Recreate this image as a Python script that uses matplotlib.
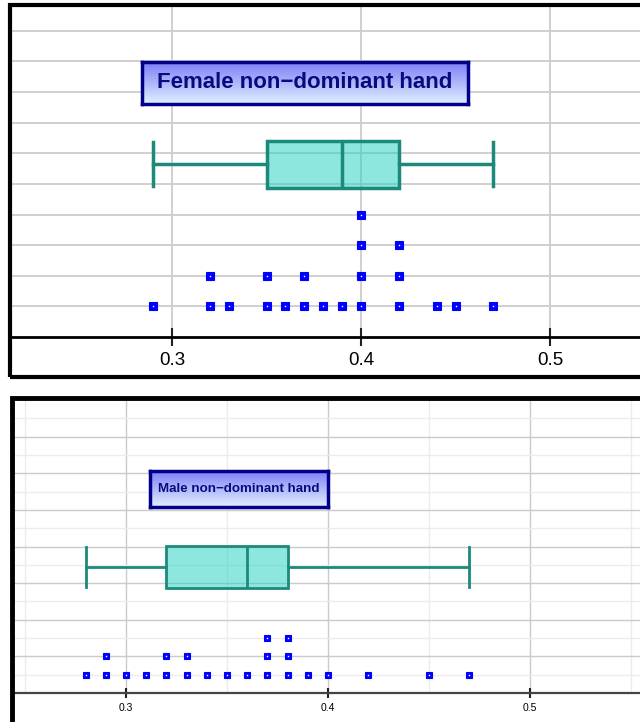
import numpy as np
import matplotlib
matplotlib.use("Agg")
import matplotlib.pyplot as plt
from matplotlib.patches import Rectangle
from matplotlib.colors import LinearSegmentedColormap

plt.rcParams['font.family'] = ['Liberation Sans', 'DejaVu Sans']

# values
female_vals = [0.29, 0.32, 0.32, 0.33, 0.35, 0.35, 0.36, 0.37, 0.37, 0.38, 0.39,
               0.40, 0.40, 0.40, 0.40, 0.42, 0.42, 0.42, 0.44, 0.45, 0.47]
male_vals = [0.28, 0.29, 0.29, 0.30, 0.31, 0.32, 0.32, 0.33, 0.33, 0.34, 0.35, 0.36,
             0.37, 0.37, 0.37, 0.38, 0.38, 0.38, 0.39, 0.40, 0.42, 0.45, 0.47]
titles = ["Female non\u2212dominant hand", "Male non\u2212dominant hand"]
tick_vals = [0.3, 0.4, 0.5]
tick_labels = ["0.3", "0.4", "0.5"]

W, H = 640, 722
BOX_EDGE = '#1b8a7a'
BOX_FACE = (0.12, 0.82, 0.75, 0.5)
title_cmap = LinearSegmentedColormap.from_list('tb', ['#e0f0ff', '#7e7ef6'])


def fx(px):
    return px / W


def fy(py):
    return 1 - py / H


def stack_positions(vals):
    seen = {}
    ys = []
    for v in vals:
        seen[v] = seen.get(v, 0) + 1
        ys.append(seen[v])
    return np.array(vals), np.array(ys)


def title_box(fig, rect_px, text, size):
    x0, y0, x1, y1 = rect_px
    tax = fig.add_axes([fx(x0), fy(y1), fx(x1 - x0), (y1 - y0) / H])
    tax.imshow(np.linspace(0, 1, 100).reshape(-1, 1)[::-1], aspect='auto',
               cmap=title_cmap, extent=[0, 1, 0, 1], origin='upper')
    tax.set_xlim(0, 1)
    tax.set_ylim(0, 1)
    tax.set_xticks([])
    tax.set_yticks([])
    for s in tax.spines.values():
        s.set_color('#00008b')
        s.set_linewidth(2.5)
    tax.text(0.5, 0.5, text, ha='center', va='center', fontsize=size,
             fontweight='bold', color='#0a0a80', transform=tax.transAxes)


def panel(fig, ax_px, xlim, ylim, vals, box_y, box_w, cap_w, ms, lw,
          label_size, tick_len, minor):
    x0, y0, x1, y1 = ax_px
    ax = fig.add_axes([fx(x0), fy(y1), fx(x1 - x0), (y1 - y0) / H])
    ax.set_xlim(*xlim)
    ax.set_ylim(*ylim)
    ax.set_axisbelow(True)

    if minor:
        ax.set_yticks(np.arange(2, ylim[1], 2))
        ax.set_yticks(np.arange(1, ylim[1], 2), minor=True)
        ax.set_xticks([0.25, 0.35, 0.45, 0.55], minor=True)
        ax.grid(True, which='minor', color='#ececec', lw=1)
        ax.grid(True, which='major', color='#cbcbcb', lw=1)
    else:
        ax.set_yticks(np.arange(1, ylim[1], 1))
        ax.grid(True, which='major', color='#cdcdcd', lw=1.3)
    ax.set_xticks(tick_vals)
    ax.set_xticklabels(tick_labels)
    ax.tick_params(axis='y', left=False, labelleft=False, which='both')
    ax.tick_params(axis='x', which='minor', bottom=False)
    ax.tick_params(axis='x', which='major', direction='inout', length=tick_len,
                   width=1.5, labelsize=label_size, pad=4, color='#222222')
    for k in ['top', 'right', 'left']:
        ax.spines[k].set_visible(False)
    ax.spines['bottom'].set_linewidth(2 if not minor else 1.6)
    ax.spines['bottom'].set_color('black' if not minor else '#444444')

    ax.boxplot(vals, orientation='horizontal', positions=[box_y], widths=box_w,
               capwidths=cap_w, whis=(0, 100), showfliers=False, patch_artist=True,
               boxprops=dict(facecolor=BOX_FACE, edgecolor=BOX_EDGE, linewidth=lw),
               medianprops=dict(color=BOX_EDGE, linewidth=lw),
               whiskerprops=dict(color=BOX_EDGE, linewidth=lw),
               capprops=dict(color=BOX_EDGE, linewidth=lw), manage_ticks=False)

    xs, ys = stack_positions(vals)
    ax.plot(xs, ys, ls='none', marker='s', ms=ms, mfc='#0000ff', mec='#0000ff',
            mew=0.8, zorder=5)
    ax.plot(xs, ys, ls='none', marker='s', ms=1.0, mfc='white', mec='none', zorder=6)
    return ax


fig = plt.figure(figsize=(W / 100, H / 100), dpi=100)

# top panel frame
fig.patches.append(Rectangle((fx(10), fy(377)), 1.2, fy(5) - fy(377),
                             transform=fig.transFigure, fill=False, ec='black',
                             lw=3, zorder=10))
panel(fig, (12, 7, 640, 337), (0.2153, 0.5476), (0, 10.78), female_vals,
      box_y=5.64, box_w=1.54, cap_w=1.44, ms=5.8, lw=2.5, label_size=13.5,
      tick_len=13, minor=False)
title_box(fig, (142, 62, 468, 104), titles[0], 16)

# bottom panel frame
fig.patches.append(Rectangle((fx(12), -0.2), 1.2, fy(398) + 0.2,
                             transform=fig.transFigure, fill=False, ec='black',
                             lw=3.5, zorder=10))
panel(fig, (14, 400, 640, 693), (0.2446, 0.5545), (0, 16), male_vals,
      box_y=6.87, box_w=2.29, cap_w=2.18, ms=4.6, lw=2.0, label_size=7.5,
      tick_len=7, minor=True)
title_box(fig, (150, 471, 328, 507), titles[1], 9.6)

fig.savefig('out.png', dpi=100)
